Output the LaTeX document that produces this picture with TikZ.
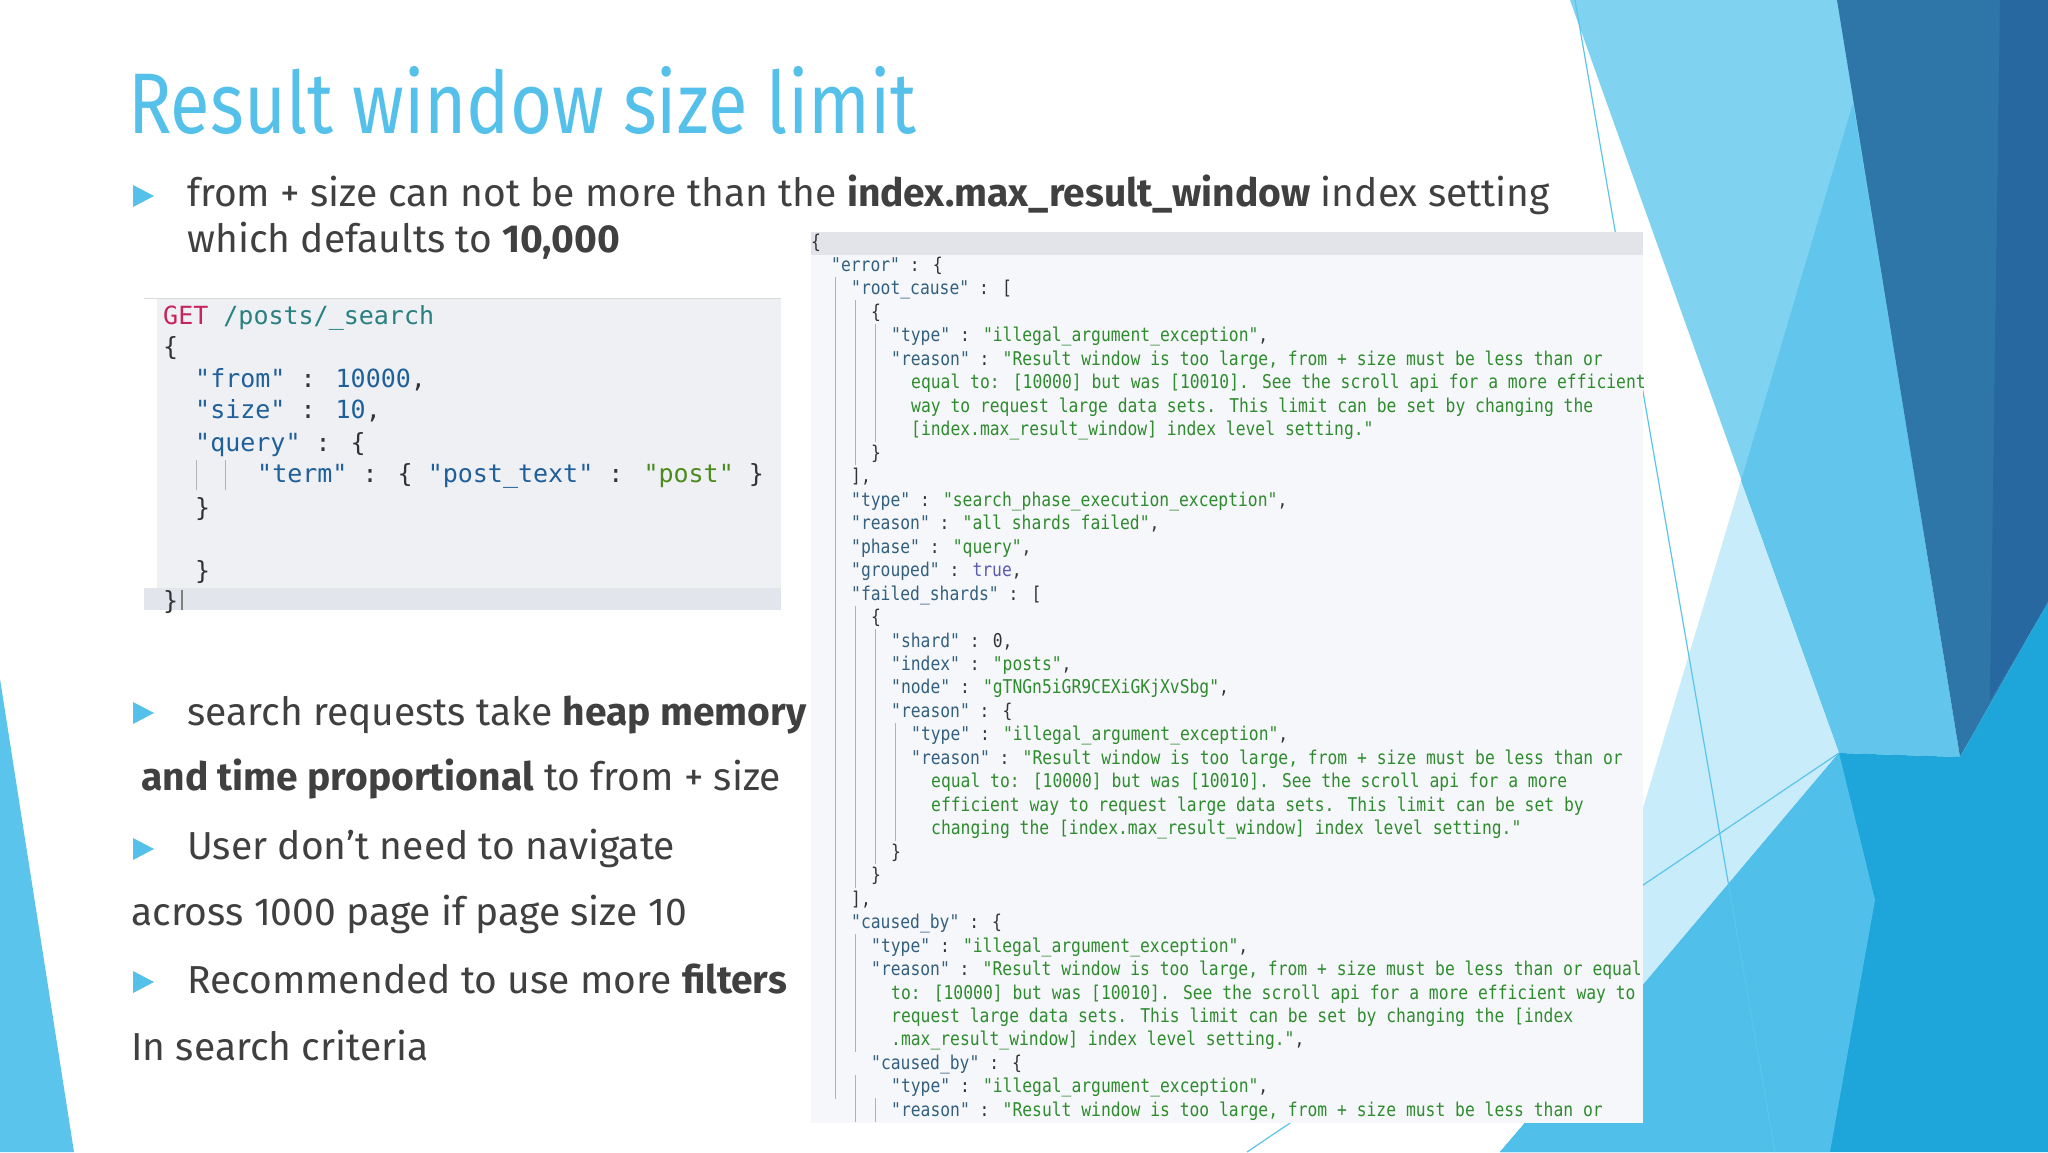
\documentclass[tikz,border=0pt]{standalone}
\usepackage{fontspec}
\setmainfont{Fira Sans}
\newfontfamily\titlefont[FakeStretch=0.84]{Fira Sans}
\newfontfamily\jsonfont[FakeStretch=0.86]{DejaVu Sans Mono}
\newfontfamily\codefont{DejaVu Sans Mono}
\definecolor{titleblue}{HTML}{55C1EA}
\definecolor{bodygray}{HTML}{404040}
\definecolor{jkey}{HTML}{33607F}
\definecolor{jstr}{HTML}{2E8B2E}
\definecolor{jpun}{HTML}{333333}
\definecolor{jtrue}{HTML}{5A5AAE}
\definecolor{ckey}{HTML}{1F5F9A}
\definecolor{cget}{HTML}{C8245A}
\definecolor{cpath}{HTML}{2A8080}
\definecolor{cstr}{HTML}{4B8B1B}
\newcommand\jk[1]{\textcolor{jkey}{"#1"}}
\newcommand\js[1]{\textcolor{jstr}{#1}}
\newcommand\ck[1]{\textcolor{ckey}{"#1"}}
\tikzset{
  jl/.style={anchor=base west,inner sep=0pt,font=\jsonfont\fontsize{19}{19}\selectfont,text=jpun},
  cl/.style={anchor=base west,inner sep=0pt,font=\codefont\fontsize{25}{25}\selectfont,text=jpun},
  bl/.style={anchor=base west,inner sep=0pt,font=\fontsize{39}{39}\selectfont,text=bodygray},
  bullet/.style={fill=titleblue},
  guide/.style={draw=black!30,line width=1pt},
}
\newcommand\JL[4]{\node[jl] (#1) at ({811+#3*20},{248+(#2-1)*23.47}) {#4};}
\newcommand\GD[3]{\draw[guide] ({811+#1*20+4},{248+(#2-1)*23.47-18}) -- ({811+#1*20+4},{248+(#3-1)*23.47+6});}
\newcommand\BUL[2]{\fill[bullet] (133,{#2-11}) -- (154,#2) -- (133,{#2+11}) -- cycle; \coordinate (#1) at (133,#2);}
\begin{document}
\begin{tikzpicture}[x=1pt,y=-1pt]
\useasboundingbox (0,0) rectangle (2048,1152);
\fill[white] (0,0) rectangle (2048,1152);
% background shapes
\fill[color={rgb,255:red,128;green,211;blue,240}] (1570,0) -- (1839,0) -- (1923,529) -- (1839,753) -- cycle;
\fill[color={rgb,255:red,98;green,198;blue,236}] (1853,103) -- (1923,529) -- (1960,757) -- (1839,753) -- (1741,481) -- cycle;
\fill[color={rgb,255:red,200;green,236;blue,249}] (1741,481) -- (1839,753) -- (1643,985) -- (1643,808) -- cycle;
\fill[color={rgb,255:red,46;green,118;blue,168}] (1837,0) -- (2048,0) -- (2048,602) -- (1960,757) -- (1923,529) -- cycle;
\fill[color={rgb,255:red,40;green,104;blue,160}] (2000,0) -- (2048,0) -- (2048,602) -- (1990,700) -- cycle;
\fill[color={rgb,255:red,30;green,165;blue,218}] (1643,985) -- (1839,753) -- (1960,757) -- (2048,602) -- (2048,1152) -- (1500,1152) -- cycle;
\fill[color={rgb,255:red,80;green,192;blue,234}] (1643,985) -- (1839,753) -- (1875,900) -- (1830,1152) -- (1500,1152) -- cycle;
\fill[color={rgb,255:red,91;green,196;blue,236}] (0,679) -- (74,1152) -- (0,1152) -- cycle;
\draw[color={rgb,255:red,91;green,196;blue,236},line width=1.2pt] (1575,0) -- (1775,1152);
\draw[color={rgb,255:red,91;green,196;blue,236},line width=1.2pt] (1247,1152) -- (1839,753);
% title
\node[anchor=base west,inner sep=0pt,text=titleblue,font=\titlefont\fontsize{86}{86}\selectfont] (title) at (128,133) {Result window size limit};
% bullets
\BUL{b1}{196}
\node[bl] (t1) at (187,206) {from + size can not be more than the \textbf{index.max\_result\_window} index setting};
\node[bl] (t1b) at (187,252) {which defaults to \textbf{10,000}};
\BUL{b2}{713}
\node[bl] (t2) at (187,725) {search requests take \textbf{heap memory}};
\node[bl] (t2b) at (141,790) {\textbf{and time proportional} to from + size};
\BUL{b3}{849}
\node[bl] (t3) at (187,859) {User don’t need to navigate};
\node[bl] (t3b) at (131,925) {across 1000 page if page size 10};
\BUL{b4}{982}
\node[bl] (t4) at (187,993) {Recommended to use more \textbf{filters}};
\node[bl] (t4b) at (131,1060) {In search criteria};
% left code panel
\fill[color={rgb,255:red,238;green,240;blue,244}] (157,298) rectangle (781,610);
\fill[color={rgb,255:red,226;green,229;blue,235}] (144,588) rectangle (781,610);
\draw[black!15,line width=1pt] (144,298) -- (781,298);
\node[cl] (c1) at (163,324) {\textcolor{cget}{GET} \textcolor{cpath}{/posts/\_search}};
\node[cl] (c2) at (163,355) {\{};
\node[cl] (c3) at (195,387) {\ck{from} : \textcolor{ckey}{10000},};
\node[cl] (c4) at (195,418) {\ck{size} : \textcolor{ckey}{10},};
\node[cl] (c5) at (195,451) {\ck{query} : \{};
\node[cl] (c6) at (257,482) {\ck{term} : \{ \ck{post\_text} : \textcolor{cstr}{"post"} \}};
\node[cl] (c7) at (195,516) {\}};
\node[cl] (c8) at (195,579) {\}};
\node[cl] (c9) at (163,609) {\}};
\draw[guide] (196,460) -- (196,490);
\draw[guide] (225,460) -- (225,490);
\draw[black!50,line width=1.5pt] (182,590) -- (182,610);
% right json panel
\fill[color={rgb,255:red,246;green,247;blue,250}] (811,232) rectangle (1643,1123);
\fill[color={rgb,255:red,226;green,228;blue,233}] (811,232) rectangle (1643,255);
\GD{1}{3}{37}
\GD{2}{4}{10}
\GD{2}{17}{28}
\GD{2}{31}{35}
\GD{2}{37}{38}
\GD{3}{5}{9}
\GD{3}{18}{27}
\GD{3}{38}{38}
\GD{4}{22}{26}
\JL{j1}{1}{0}{\{}
\JL{j2}{2}{1}{\jk{error} : \{}
\JL{j3}{3}{2}{\jk{root\_cause} : [}
\JL{j4}{4}{3}{\{}
\JL{j5}{5}{4}{\jk{type} : \js{"illegal\_argument\_exception"},}
\JL{j6}{6}{4}{\jk{reason} : \js{"Result window is too large, from + size must be less than or}}
\JL{j7}{7}{5}{\js{equal to: [10000] but was [10010]. See the scroll api for a more efficient}}
\JL{j8}{8}{5}{\js{way to request large data sets. This limit can be set by changing the}}
\JL{j9}{9}{5}{\js{[index.max\_result\_window] index level setting."}}
\JL{j10}{10}{3}{\}}
\JL{j11}{11}{2}{],}
\JL{j12}{12}{2}{\jk{type} : \js{"search\_phase\_execution\_exception"},}
\JL{j13}{13}{2}{\jk{reason} : \js{"all shards failed"},}
\JL{j14}{14}{2}{\jk{phase} : \js{"query"},}
\JL{j15}{15}{2}{\jk{grouped} : \textcolor{jtrue}{true},}
\JL{j16}{16}{2}{\jk{failed\_shards} : [}
\JL{j17}{17}{3}{\{}
\JL{j18}{18}{4}{\jk{shard} : 0,}
\JL{j19}{19}{4}{\jk{index} : \js{"posts"},}
\JL{j20}{20}{4}{\jk{node} : \js{"gTNGn5iGR9CEXiGKjXvSbg"},}
\JL{j21}{21}{4}{\jk{reason} : \{}
\JL{j22}{22}{5}{\jk{type} : \js{"illegal\_argument\_exception"},}
\JL{j23}{23}{5}{\jk{reason} : \js{"Result window is too large, from + size must be less than or}}
\JL{j24}{24}{6}{\js{equal to: [10000] but was [10010]. See the scroll api for a more}}
\JL{j25}{25}{6}{\js{efficient way to request large data sets. This limit can be set by}}
\JL{j26}{26}{6}{\js{changing the [index.max\_result\_window] index level setting."}}
\JL{j27}{27}{4}{\}}
\JL{j28}{28}{3}{\}}
\JL{j29}{29}{2}{],}
\JL{j30}{30}{2}{\jk{caused\_by} : \{}
\JL{j31}{31}{3}{\jk{type} : \js{"illegal\_argument\_exception"},}
\JL{j32}{32}{3}{\jk{reason} : \js{"Result window is too large, from + size must be less than or equal}}
\JL{j33}{33}{4}{\js{to: [10000] but was [10010]. See the scroll api for a more efficient way to}}
\JL{j34}{34}{4}{\js{request large data sets. This limit can be set by changing the [index}}
\JL{j35}{35}{4}{\js{.max\_result\_window] index level setting."},}
\JL{j36}{36}{3}{\jk{caused\_by} : \{}
\JL{j37}{37}{4}{\jk{type} : \js{"illegal\_argument\_exception"},}
\JL{j38}{38}{4}{\jk{reason} : \js{"Result window is too large, from + size must be less than or}}
\end{tikzpicture}
\end{document}
